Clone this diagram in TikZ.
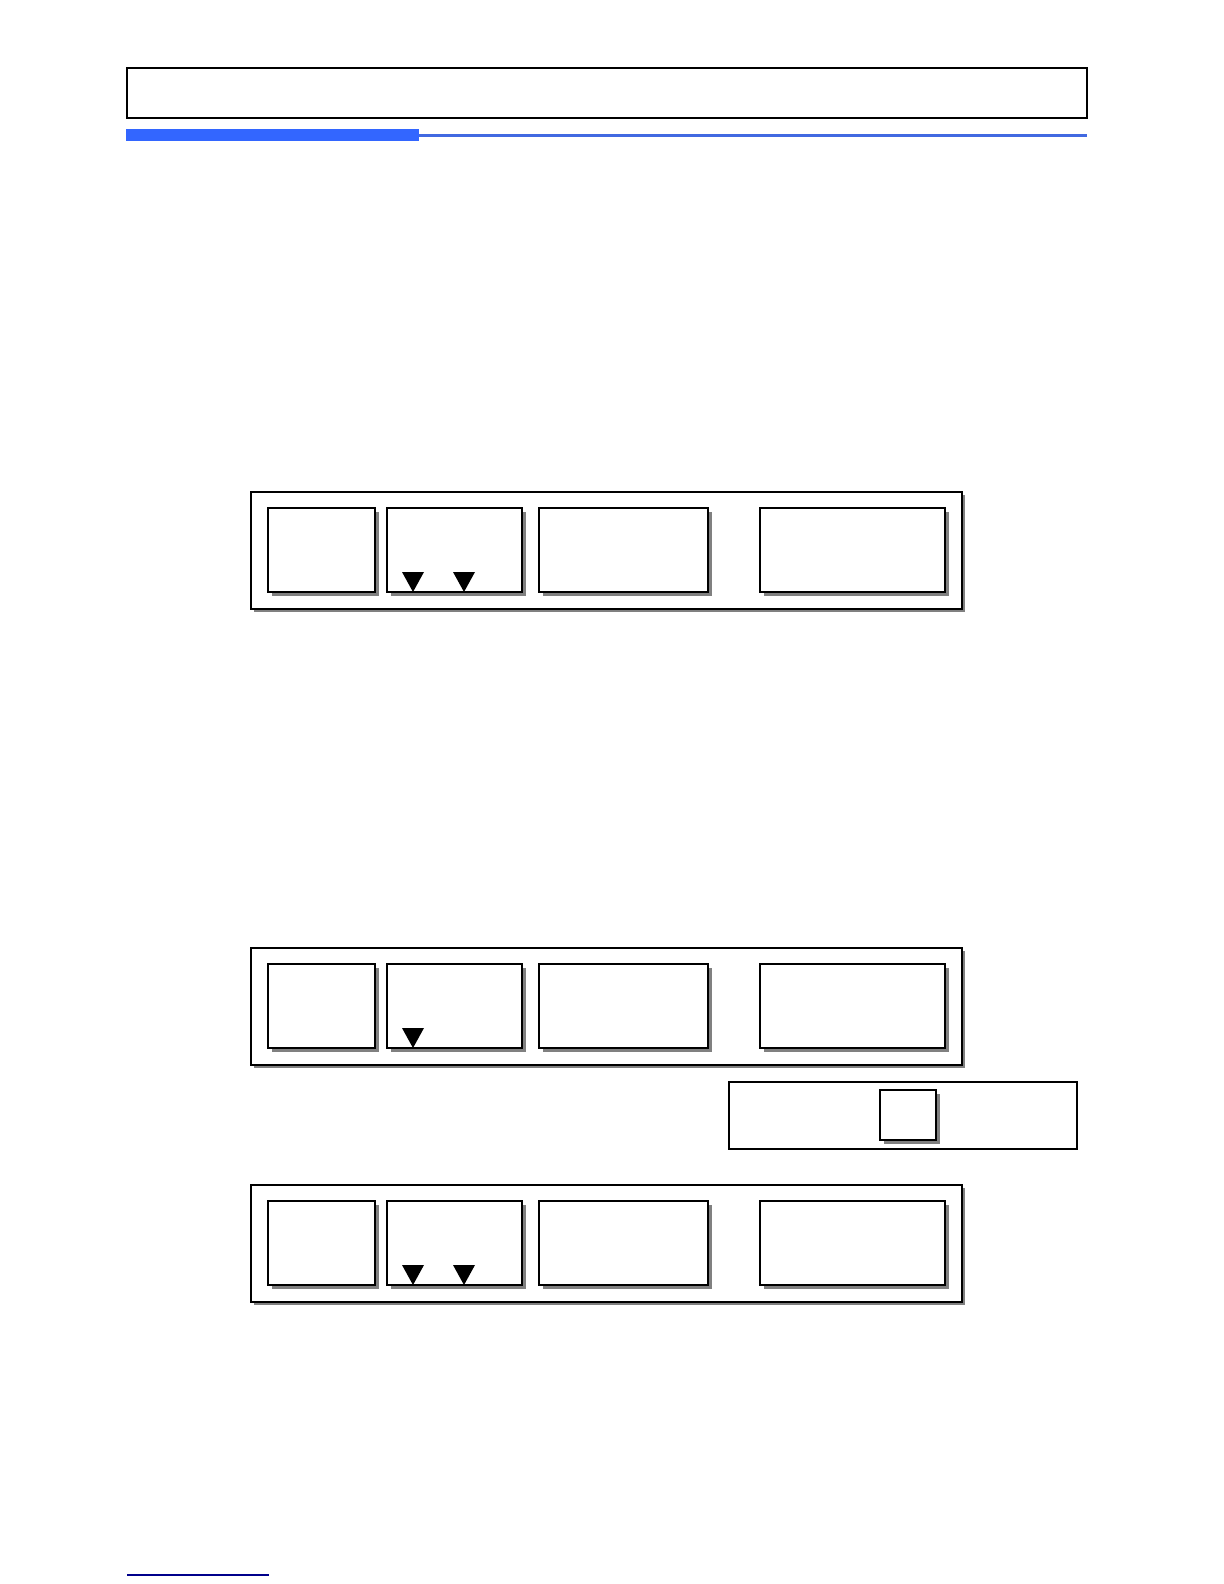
\documentclass[tikz,border=0pt]{standalone}
\usetikzlibrary{shadows}
\definecolor{barblue}{RGB}{51,102,255}
\definecolor{lineblue}{RGB}{65,105,225}
\definecolor{footblue}{RGB}{0,0,139}
\tikzset{
  lcdframe/.style={draw, fill=white, line width=1bp,
    drop shadow={shadow xshift=1.5bp, shadow yshift=-1.5bp, fill=gray, opacity=1}},
  lcdcell/.style={draw, fill=white, line width=0.9bp,
    drop shadow={shadow xshift=2bp, shadow yshift=-2bp, fill=gray, opacity=1}},
  marker/.style={fill=black}
}
\begin{document}
\begin{tikzpicture}[x=0.5bp,y=-0.5bp]
  \useasboundingbox (0,0) rectangle (1224,1584);
  % page header
  \draw[line width=0.6bp] (127,68) rectangle (1087,118);
  \fill[barblue] (126,129) rectangle (419,141);
  \fill[lineblue] (419,134) rectangle (1087,137);
  % three displays, the last number is the count of markers
  \foreach \dy/\n in {0/2, 456/1, 693/2}{
    \begin{scope}[shift={(0,\dy)}]
      \draw[lcdframe] (251,492) rectangle (962,609);   % frame
      \draw[lcdcell] (268,508) rectangle (375,592);    % A
      \draw[lcdcell] (387,508) rectangle (522,592);    % B
      \draw[lcdcell] (539,508) rectangle (708,592);    % C
      \draw[lcdcell] (760,508) rectangle (945,592);    % D
      \fill[marker] (402,572) -- (424,572) -- (413,592) -- cycle;
      \ifnum\n=2
        \fill[marker] (453,572) -- (475,572) -- (464,592) -- cycle;
      \fi
    \end{scope}
  }
  % key box
  \draw[line width=1.2bp] (729,1082) rectangle (1077,1149);
  \draw[lcdcell] (880,1090) rectangle (936,1140);
  % footer
  \draw[footblue, line width=1bp] (127,1575) -- (269,1575);
\end{tikzpicture}
\end{document}
